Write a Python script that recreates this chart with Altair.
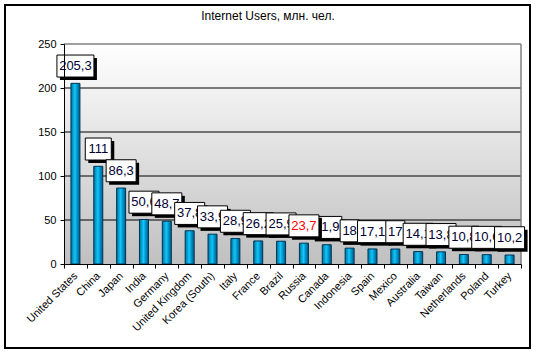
import altair as alt
import pandas as pd

countries = ["United States", "China", "Japan", "India", "Germany", "United Kingdom",
             "Korea (South)", "Italy", "France", "Brazil", "Russia", "Canada", "Indonesia",
             "Spain", "Mexico", "Australia", "Taiwan", "Netherlands", "Poland", "Turkey"]
users = [205.3, 111, 86.3, 50.6, 48.7, 37.8, 33.9, 28.9, 26.2, 25.9, 23.7, 21.9, 18,
         17.1, 17, 14.1, 13.8, 10.8, 10.6, 10.2]
y_ticks = [0, 50, 100, 150, 200, 250]
grid_lines = [50, 100, 150, 200]
highlight = "Russia"
title_text = "Internet Users, млн. чел."

W, H = 457, 220
K = 250 / H  # data units per pixel
FONT = "Liberation Sans"

labels = [(f"{v:g}").replace(".", ",") for v in users]
df = pd.DataFrame({"country": countries, "value": users, "label": labels})

xenc = alt.X("country:N", sort=countries,
             scale=alt.Scale(domain=countries, paddingInner=0, paddingOuter=0),
             axis=alt.Axis(title=None, labelAngle=-45, labelAlign="right", labelBaseline="middle",
                           tickBand="extent", tickSize=4, tickColor="black", domainColor="black",
                           labelFont=FONT, labelFontSize=11, labelColor="black", labelPadding=6,
                           zindex=1))


def yenc(field):
    return alt.Y(field, type="quantitative", scale=alt.Scale(domain=[0, 250], nice=False),
                 axis=alt.Axis(title=None, values=y_ticks, grid=False, tickSize=4, tickColor="black",
                               domainColor="black", labelFont=FONT, labelFontSize=11,
                               labelColor="black", labelPadding=4, zindex=1))


one = pd.DataFrame({"a": [0]})

bg = alt.Chart(one).mark_rect(
    color=alt.Gradient(gradient="linear",
                       stops=[alt.GradientStop(color="#ffffff", offset=0),
                              alt.GradientStop(color="#c0c0c0", offset=1)],
                       x1=0, x2=0, y1=0, y2=1)
).encode(x=alt.value(0), x2=alt.value(W), y=alt.value(0), y2=alt.value(H))

grid = alt.Chart(pd.DataFrame({"g": grid_lines})).mark_rule(color="black", strokeWidth=1).encode(
    y=yenc("g"))

top_rule = alt.Chart(one).mark_rule(color="#808080", strokeWidth=1.5).encode(
    x=alt.value(0), x2=alt.value(W), y=alt.value(0))
right_rule = alt.Chart(one).mark_rule(color="#808080", strokeWidth=1.5).encode(
    x=alt.value(W), y=alt.value(0), y2=alt.value(H))

bars = alt.Chart(df).mark_bar(
    width=9, stroke="#003355", strokeWidth=1,
    color=alt.Gradient(gradient="linear",
                       stops=[alt.GradientStop(color="#0070a0", offset=0),
                              alt.GradientStop(color="#10c8f8", offset=0.45),
                              alt.GradientStop(color="#0090c8", offset=0.7),
                              alt.GradientStop(color="#005a85", offset=1)],
                       x1=0, x2=1, y1=0, y2=0)
).encode(x=xenc, y=yenc("value"))

title = alt.Chart(one).mark_text(
    text=title_text, font=FONT, fontSize=12, color="black", align="center", baseline="middle"
).encode(x=alt.value(268 - 64), y=alt.value(16 - 44))

layers = [bg, grid, top_rule, right_rule, bars, title]

order = [c for c in countries if c != highlight] + [highlight]
for c in order:
    i = countries.index(c)
    lab = labels[i]
    nd = sum(ch.isdigit() for ch in lab)
    nc = lab.count(",")
    bw = round(7.23 * nd + 3.6 * nc + 4.5)
    base = alt.Chart(df).transform_filter(alt.datum.country == c).transform_calculate(
        top=f"datum.value + {28.3 * K}",
        bot=f"datum.value + {6.3 * K}",
        stop=f"datum.value + {25.3 * K}",
        sbot=f"datum.value + {3.3 * K}",
        mid=f"datum.value + {17.3 * K}")
    shadow = base.mark_bar(width=bw, color="black", xOffset=3).encode(
        x=xenc, y=yenc("stop"), y2="sbot:Q")
    box = base.mark_bar(width=bw, color="white", stroke="black", strokeWidth=1).encode(
        x=xenc, y=yenc("top"), y2="bot:Q")
    txt = base.mark_text(font=FONT, fontSize=13, align="center", baseline="middle",
                         color="#ff0000" if c == highlight else "#000033").encode(
        x=xenc, y=yenc("mid"), text="label:N")
    layers += [shadow, box, txt]

frame = alt.Chart(one).mark_rect(fillOpacity=0, stroke="black", strokeWidth=2).encode(
    x=alt.value(-59), x2=alt.value(466), y=alt.value(-39), y2=alt.value(304))
layers.append(frame)

chart = alt.layer(*layers).properties(
    width=W, height=H,
    autosize=alt.AutoSizeParams(type="none"),
    padding={"left": 64, "top": 44, "right": 16, "bottom": 90},
    background="white",
).configure_view(stroke=None)

chart.save("out.html", embed_options={"renderer": "svg", "actions": False})
